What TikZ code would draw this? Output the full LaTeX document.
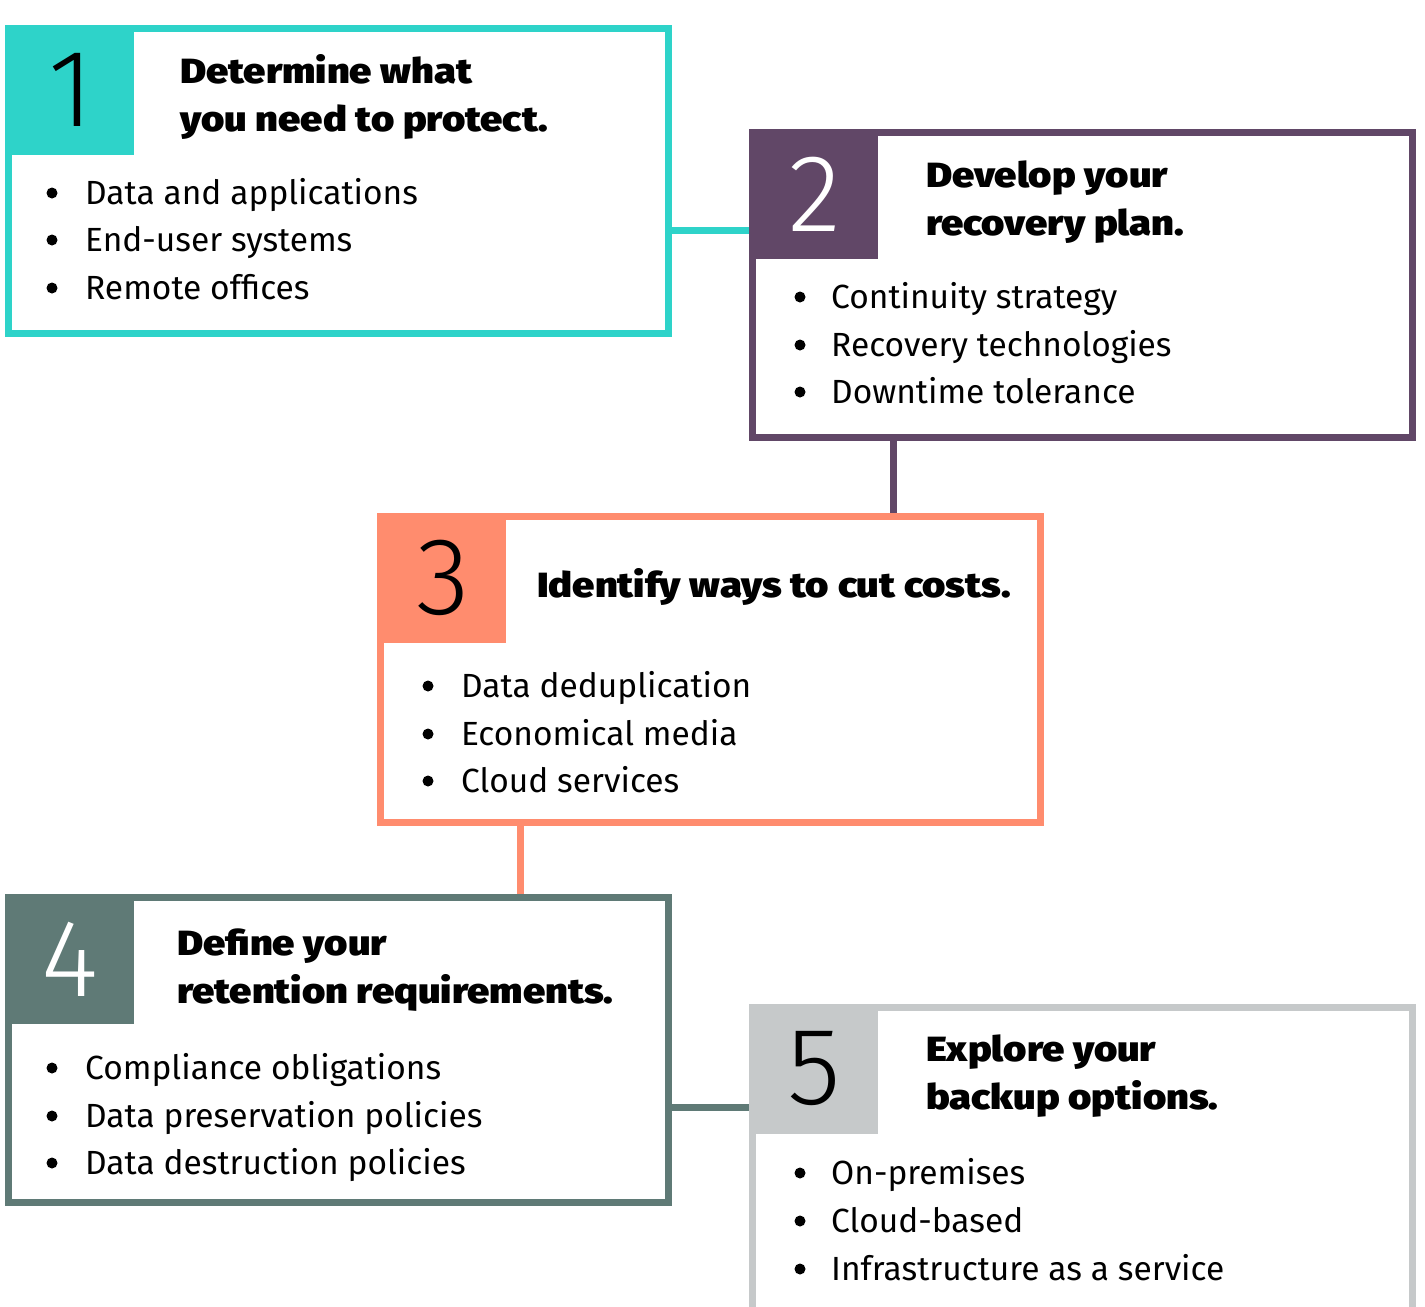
\documentclass[tikz,border=0pt]{standalone}
\usepackage{fontspec}
\setmainfont{Fira Sans}
\IfFontExistsTF{Fira Sans Light}{\newfontfamily\numfont{Fira Sans Light}}{\newfontfamily\numfont{Fira Sans}}
\IfFontExistsTF{Fira Sans Heavy}{\newfontfamily\titlefont[FakeStretch=1.14]{Fira Sans Heavy}}{%
  \IfFontExistsTF{Fira Sans Black}{\newfontfamily\titlefont[FakeStretch=1.14]{Fira Sans Black}}{\newcommand\titlefont{\bfseries}}}
\definecolor{cteal}{HTML}{2ED3C9}
\definecolor{cpurple}{HTML}{614767}
\definecolor{corange}{HTML}{FF8C6E}
\definecolor{cslate}{HTML}{5F7A76}
\definecolor{cgray}{HTML}{C6C9CA}
\begin{document}
\begin{tikzpicture}[x=1pt,y=-1pt,
  stepframe/.style={line width=7.5pt, fill=white, inner sep=0pt, minimum width=660pt},
  numsq/.style={inner sep=0pt, minimum width=129pt, minimum height=130pt, anchor=north west},
  num/.style={font=\numfont\fontsize{110}{110}\selectfont, inner sep=0pt},
  ttl/.style={font=\titlefont\fontsize{35}{40}\selectfont, inner sep=0pt, anchor=base west},
  item/.style={font=\fontsize{33.5}{40}\selectfont, inner sep=0pt, anchor=base west},
  link/.style={line width=7pt}]
\clip (0,0) rectangle (1425,1307);
\fill[white] (0,0) rectangle (1425,1307);

% frames
\node[stepframe, draw=cteal,   minimum height=305pt] (b1) at (338.5,181) {};
\node[stepframe, draw=cpurple, minimum height=305pt] (b2) at (1082.5,285) {};
\node[stepframe, draw=corange, minimum height=306pt] (b3) at (710.5,669.5) {};
\node[stepframe, draw=cslate,  minimum height=305pt] (b4) at (338.5,1050) {};
\node[stepframe, draw=cgray,   minimum height=340pt] (b5) at (1082.5,1177.5) {};

% connectors
\draw[link, cteal]   (b1.east |- 0,230)  -- (b2.west |- 0,230);
\draw[link, cpurple] (893,0 |- b2.south) -- (893,0 |- b3.north);
\draw[link, corange] (520,0 |- b3.south) -- (520,0 |- b4.north);
\draw[link, cslate]  (b4.east |- 0,1107) -- (b5.west |- 0,1107);

% number squares
\node[numsq, fill=cteal]   (s1) at (b1.north west) {};
\node[numsq, fill=cpurple] (s2) at (b2.north west) {};
\node[numsq, fill=corange] (s3) at (b3.north west) {};
\node[numsq, fill=cslate]  (s4) at (b4.north west) {};
\node[numsq, fill=cgray]   (s5) at (b5.north west) {};
\node[num, text=black] (n1) at ([xshift=2pt]s1.center) {1};
\node[num, text=white] (n2) at ([xshift=1pt]s2.center) {2};
\node[num, text=black] (n3) at ([xshift=2pt]s3.center) {3};
\node[num, text=white] (n4) at ([xshift=1pt]s4.center) {4};
\node[num, text=black] (n5) at ([xshift=1pt]s5.center) {5};

% titles
\node[ttl] (t1a) at (180,83)  {Determine what};
\node[ttl] (t1b) at (180,131) {you need to protect.};
\node[ttl] (t2a) at (926,187) {Develop your};
\node[ttl] (t2b) at (926,235) {recovery plan.};
\node[ttl] (t3a) at (537,597) {Identify ways to cut costs.};
\node[ttl] (t4a) at (177,955) {Define your};
\node[ttl] (t4b) at (177,1003) {retention requirements.};
\node[ttl] (t5a) at (926,1061) {Explore your};
\node[ttl] (t5b) at (926,1109) {backup options.};

% bullets
\foreach \x/\y in {52/204,52/251,52/299, 800/308,800/356,800/403, 428/697,428/745,428/792,
                   52/1079,52/1127,52/1174, 800/1184,800/1232,800/1280}
  \fill (\x,\y-11) circle (5.5pt);

\node[item] (i11) at (85,204) {Data and applications};
\node[item] (i12) at (85,251) {End-user systems};
\node[item] (i13) at (85,299) {Remote offices};
\node[item] (i21) at (831,308) {Continuity strategy};
\node[item] (i22) at (831,356) {Recovery technologies};
\node[item] (i23) at (831,403) {Downtime tolerance};
\node[item] (i31) at (461,697) {Data deduplication};
\node[item] (i32) at (461,745) {Economical media};
\node[item] (i33) at (461,792) {Cloud services};
\node[item] (i41) at (85,1079) {Compliance obligations};
\node[item] (i42) at (85,1127) {Data preservation policies};
\node[item] (i43) at (85,1174) {Data destruction policies};
\node[item] (i51) at (831,1184) {On-premises};
\node[item] (i52) at (831,1232) {Cloud-based};
\node[item] (i53) at (831,1280) {Infrastructure as a service};
\end{tikzpicture}
\end{document}
